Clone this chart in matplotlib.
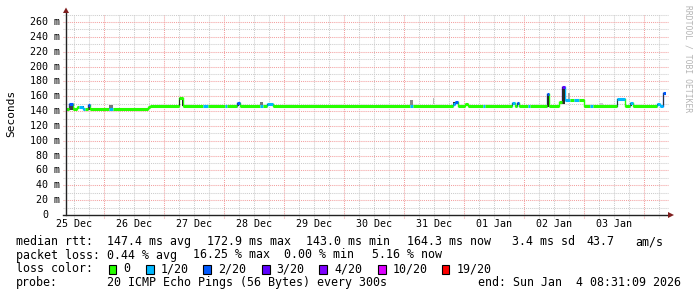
import numpy as np
import matplotlib
matplotlib.use('Agg')
import matplotlib.pyplot as plt
from matplotlib.patches import Rectangle, Polygon

W, H = 697, 297
DPI = 100
MONO = 'DejaVu Sans Mono'
TEXT_COLOR = '#000000'
MINOR_GRID = '#cccccc'
MAJOR_GRID = '#f3a0a0'
ARROW_COLOR = '#7f1f1f'
AXIS_COLOR = '#222222'

LOSS_COLORS = ['#26ff00', '#00b8ff', '#0059ff', '#5e00ff', '#7e00ff', '#dd00ff', '#ff0000']
LOSS_LABELS = ['0', '1/20', '2/20', '3/20', '4/20', '10/20', '19/20']

DAY_LABELS = ['25 Dec', '26 Dec', '27 Dec', '28 Dec', '29 Dec', '30 Dec',
              '31 Dec', '01 Jan', '02 Jan', '03 Jan']
Y_TICKS = [0, 20, 40, 60, 80, 100, 120, 140, 160, 180, 200, 220, 240, 260]

# median rtt, hours since 25 Dec 00:00 -> ms, loss level index
seg_start = [8.8, 10.0, 11.5, 13.3, 14.0, 15.5, 16.5, 17.5, 18.4, 26.1, 27.5, 41.6,
             42.4, 54.0, 55.7, 63.7, 65.7, 72.4, 73.3, 77.0, 78.4, 86.4, 87.7, 89.3,
             91.7, 146.4, 147.7, 163.5, 164.5, 165.7, 168.4, 169.6, 175.7, 176.4,
             187.0, 188.4, 189.0, 190.0, 193.5, 194.4, 201.0, 202.1, 206.1, 207.0,
             208.4, 210.4, 212.0, 214.0, 215.8, 218.4, 219.5, 229.0, 232.3, 234.3,
             235.7, 245.2, 246.3, 247.4]
seg_end = seg_start[1:] + [248.6]
seg_ms = [143, 149, 143, 146, 146, 143, 143, 148, 143, 143, 143, 145,
          147.5, 157.5, 147.5, 147.5, 147.5, 147.5, 147.5, 151, 147.5, 147.5, 147.5, 149,
          147.5, 147.5, 147.5, 150, 152, 147.5, 149, 147.5, 147.5, 147.5,
          151, 147.5, 151, 147.5, 147.5, 147.5, 162.5, 147.5, 152, 172.9,
          155, 155, 155, 155, 147.5, 147.5, 147.5, 156.5, 147.5, 151,
          147.5, 150, 147.5, 164.3]
seg_loss = [0, 2, 0, 0, 1, 1, 0, 2, 0, 1, 0, 0,
            0, 0, 0, 1, 0, 1, 0, 2, 0, 1, 0, 1,
            0, 1, 0, 1, 2, 0, 0, 0, 1, 0,
            1, 0, 2, 0, 1, 0, 2, 0, 0, 3,
            1, 0, 1, 0, 0, 1, 0, 1, 0, 1,
            0, 1, 1, 2]

# smoke (spread of the pings)
smoke_start = [10.0, 15.3, 17.5, 26.1, 54.0, 55.3, 77.0, 86.4, 89.3, 146.4, 155.5,
               163.5, 187.0, 189.0, 201.0, 207.0, 209.5, 222.4, 229.0, 234.3, 245.2, 247.4]
smoke_end = [11.5, 16.0, 18.4, 27.5, 54.4, 55.7, 78.0, 87.7, 89.7, 147.7, 156.1,
             164.3, 187.5, 189.5, 202.1, 208.4, 210.4, 223.5, 229.6, 235.0, 245.8, 248.0]
smoke_lo = [142, 145, 142, 143, 147.5, 147.5, 147.5, 148, 147.5, 148.5, 149,
            147.5, 147.5, 147.5, 146, 150, 155, 148, 145, 147.5, 147.5, 147.5]
smoke_hi = [149, 147, 148, 148.5, 157.5, 157.5, 151, 152.5, 149.5, 154.5, 157,
            152, 151, 151, 162.5, 173, 165, 151, 156.5, 151, 150, 164]
smoke_shade = ['#404040', '#555555', '#404040', '#777777', '#2a2a2a', '#2a2a2a',
               '#333333', '#777777', '#333333', '#888888', '#bbbbbb',
               '#333333', '#333333', '#333333', '#2a2a2a', '#2a2a2a', '#aaaaaa',
               '#cccccc', '#333333', '#333333', '#333333', '#333333']

X0, X1 = 8.8, 248.8
Y1 = 270.8


def fx(px):
    return px / W


def fy(py):
    return 1 - py / H


fig = plt.figure(figsize=(W / DPI, H / DPI), dpi=DPI, facecolor='white')
ax = fig.add_axes([fx(66), fy(215), 600 / W, 201 / H])
ax.set_xlim(X0, X1)
ax.set_ylim(0, Y1)
ax.set_facecolor('white')
for s in ax.spines.values():
    s.set_visible(False)
ax.set_xticks([])
ax.set_yticks([])

dot = (0, (1, 1))
# vertical grid: every 6 h, red at midnight
for h in np.arange(12, X1, 6):
    col = MAJOR_GRID if h % 24 == 0 else MINOR_GRID
    ax.axvline(h, ymin=-0.015, ymax=1, color=col, lw=0.75, ls=dot, clip_on=False, zorder=0)
# horizontal grid: every 10 ms, red at labelled values
for v in np.arange(10, Y1, 10):
    col = MAJOR_GRID if v % 20 == 0 else MINOR_GRID
    ax.axhline(v, xmin=-0.005, xmax=1.003, color=col, lw=0.75, ls=dot, clip_on=False, zorder=0)

# smoke
for a, b, lo, hi, c in zip(smoke_start, smoke_end, smoke_lo, smoke_hi, smoke_shade):
    ax.add_patch(Rectangle((a, lo), b - a, hi - lo, facecolor=c, edgecolor='none', zorder=2.7))

# median line coloured by loss: thin connectors, thick level segments
prev = seg_ms[0]
for a, b, v, l in zip(seg_start, seg_end, seg_ms, seg_loss):
    ax.plot([a, a], [prev, v], color=LOSS_COLORS[l], lw=1.0, zorder=2.5)
    ax.plot([a, b], [v, v], color=LOSS_COLORS[l], lw=2.2,
            solid_capstyle='butt', zorder=3)
    prev = v

# axes lines and arrows
ax.plot([0, 0], [0, 203 / 201], transform=ax.transAxes, color=AXIS_COLOR, lw=1.0, clip_on=False, zorder=4)
ax.plot([-3 / 600, 602 / 600], [0, 0], transform=ax.transAxes, color=AXIS_COLOR, lw=1.0, clip_on=False, zorder=4)
fig.patches.append(Polygon([(fx(66), fy(7.5)), (fx(63), fy(13)), (fx(69), fy(13))],
                           closed=True, transform=fig.transFigure, facecolor=ARROW_COLOR, edgecolor='none'))
fig.patches.append(Polygon([(fx(674), fy(215)), (fx(668), fy(212)), (fx(668), fy(218))],
                           closed=True, transform=fig.transFigure, facecolor=ARROW_COLOR, edgecolor='none'))

# tick labels
for i, lab in enumerate(DAY_LABELS):
    ax.annotate(lab, xy=(12 + 24 * i, 0), xycoords=('data', 'axes fraction'),
                xytext=(0, -3), textcoords='offset points', ha='center', va='top',
                fontsize=7.2, family=MONO, color=TEXT_COLOR)
for v in Y_TICKS:
    lab = f'{v} m' if v else '0'
    off = -4.3 if v else -12.9
    ax.annotate(lab, xy=(0, v), xycoords=('axes fraction', 'data'),
                xytext=(off, 0), textcoords='offset points', ha='right', va='center',
                fontsize=7.2, family=MONO, color=TEXT_COLOR)

fig.text(fx(11), fy(113), 'Seconds', rotation=90, ha='center', va='center',
         fontsize=8, family=MONO, color=TEXT_COLOR)
fig.text(fx(688), fy(5), 'RRDTOOL / TOBI OETIKER', rotation=270, ha='center', va='top',
         fontsize=5.8, family=MONO, color='#b4b4b4')

# legend
LEG = dict(fontsize=8.4, family=MONO, color=TEXT_COLOR, va='center', ha='left')
rows = [
    (241.7, [(16, 'median rtt:'), (107, '147.4 ms avg'), (207, '172.9 ms max'),
             (306, '143.0 ms min'), (407.5, '164.3 ms now'), (512.5, '3.4 ms sd'),
             (586, '43.7'), (635, 'am/s')]),
    (255, [(16, 'packet loss:'), (107, '0.44 % avg'), (193, '16.25 % max'),
           (284, '0.00 % min'), (372.5, '5.16 % now')]),
    (269, [(16, 'loss color:')]),
    (282.7, [(16, 'probe:'), (107, '20 ICMP Echo Pings (56 Bytes) every 300s'),
             (478, 'end: Sun Jan  4 08:31:09 2026')]),
]
for y, items in rows:
    for x, t in items:
        fig.text(fx(x), fy(y), t, **LEG)

box_x = [108.5, 146, 203, 262, 319, 378, 441.5]
lab_x = [123, 160.5, 218, 276.5, 334, 392.5, 456.5]
for bx, lx, c, t in zip(box_x, lab_x, LOSS_COLORS, LOSS_LABELS):
    fig.patches.append(Rectangle((fx(bx), fy(273.5)), 7.5 / W, 9 / H, transform=fig.transFigure,
                                 facecolor=c, edgecolor='black', lw=0.8))
    fig.text(fx(lx), fy(269), t, **LEG)

fig.savefig('out.png', dpi=DPI, facecolor='white')
